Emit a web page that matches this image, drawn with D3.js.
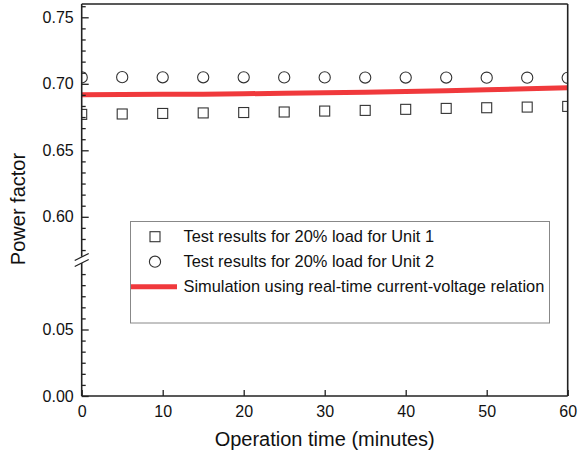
<!DOCTYPE html>
<html>
<head>
<meta charset="utf-8">
<script src="https://cdn.jsdelivr.net/npm/d3@7"></script>
<style>
  body { margin: 0; background: #fff; }
  svg text { font-family: "Liberation Sans", Arial, sans-serif; fill: #111; }
</style>
</head>
<body>
<div id="chart"></div>
<script>
// Operation time, minutes
var minutes = [0, 5, 10, 15, 20, 25, 30, 35, 40, 45, 50, 55, 60];
// Unit 1 test results (squares)
var unit1 = [0.6770, 0.6773, 0.6777, 0.6781, 0.6784, 0.6788, 0.6795, 0.6800, 0.6808, 0.6815, 0.6820, 0.6825, 0.6830];
// Unit 2 test results (circles)
var unit2 = [0.7048, 0.7050, 0.7049, 0.7049, 0.7049, 0.7048, 0.7048, 0.7047, 0.7047, 0.7047, 0.7046, 0.7046, 0.7045];
// simulation curve
var simulation = [0.6917, 0.6920, 0.6922, 0.6921, 0.6925, 0.6929, 0.6933, 0.6937, 0.6942, 0.6948, 0.6955, 0.6962, 0.6970];

var xTicks = [0, 10, 20, 30, 40, 50, 60];
var yTopTicks = [0.60, 0.65, 0.70, 0.75];
var yBotTicks = [0.00, 0.05];
var legendLabels = [
  "Test results for 20% load for Unit 1",
  "Test results for 20% load for Unit 2",
  "Simulation using real-time current-voltage relation"
];

var W = 579, H = 457,
    pLeft = 81.7, pRight = 567.7, pTop = 4, pBottom = 396,
    breakTop = 256.7, breakBot = 263;

var svg = d3.select("#chart").append("svg")
  .attr("width", W).attr("height", H);

var x = d3.scaleLinear().domain([0, 60]).range([pLeft, pRight]);
// broken y axis: two linear segments
var yTop = d3.scaleLinear().domain([0.57, 0.76]).range([breakTop, pTop]);
var yBot = d3.scaleLinear().domain([0, 0.1]).range([pBottom, breakBot]);

svg.append("clipPath").attr("id", "plotClip")
  .append("rect")
    .attr("x", pLeft).attr("y", pTop)
    .attr("width", pRight - pLeft).attr("height", pBottom - pTop);

var data = minutes.map(function (m, i) {
  return { t: m, u1: unit1[i], u2: unit2[i], sim: simulation[i] };
});

//simulation line
var plot = svg.append("g").attr("clip-path", "url(#plotClip)");
plot.append("path")
  .datum(data)
  .attr("fill", "none")
  .attr("stroke", "#f0393c")
  .attr("stroke-width", 5)
  .attr("d", d3.line()
    .x(function (d) { return x(d.t); })
    .y(function (d) { return yTop(d.sim); }));

//squares for unit 1
var sq = 10;
plot.selectAll(".u1").data(data).enter().append("rect")
  .attr("class", "u1")
  .attr("x", function (d) { return x(d.t) - sq / 2; })
  .attr("y", function (d) { return yTop(d.u1) - sq / 2; })
  .attr("width", sq).attr("height", sq)
  .style("fill", "none").style("stroke", "#333").style("stroke-width", 1.1);

//circles for unit 2
plot.selectAll(".u2").data(data).enter().append("circle")
  .attr("class", "u2")
  .attr("cx", function (d) { return x(d.t); })
  .attr("cy", function (d) { return yTop(d.u2); })
  .attr("r", 5.6)
  .style("fill", "none").style("stroke", "#333").style("stroke-width", 1.1);

//minor ticks: 6 intervals per major step
function minorTicks(scale, step) {
  var d = scale.domain(), out = [];
  var start = Math.ceil(d[0] / step - 1e-6);
  for (var k = start; k * step <= d[1] + 1e-9; k++) {
    if (k % 6 !== 0) out.push(k * step);
  }
  return out;
}

function styleAxis(g) {
  g.select(".domain").remove();
  g.selectAll("line").attr("stroke", "#222").attr("stroke-width", 1.3);
  g.selectAll("text").style("font-size", "16px").attr("fill", "#111");
}

//y axis, upper segment
svg.append("g").attr("transform", "translate(" + pLeft + ",0)")
  .call(d3.axisLeft(yTop).tickValues(yTopTicks).tickFormat(d3.format(".2f"))
    .tickSize(-7).tickPadding(8))
  .call(styleAxis);
svg.append("g").attr("transform", "translate(" + pLeft + ",0)")
  .call(d3.axisLeft(yTop).tickValues(minorTicks(yTop, 0.05 / 6)).tickFormat("").tickSize(-4))
  .call(styleAxis);

//y axis, lower segment
svg.append("g").attr("transform", "translate(" + pLeft + ",0)")
  .call(d3.axisLeft(yBot).tickValues(yBotTicks).tickFormat(d3.format(".2f"))
    .tickSize(-7).tickPadding(8))
  .call(styleAxis);
svg.append("g").attr("transform", "translate(" + pLeft + ",0)")
  .call(d3.axisLeft(yBot).tickValues(minorTicks(yBot, 0.05 / 6).filter(function (v) { return v < 0.099; }))
    .tickFormat("").tickSize(-4))
  .call(styleAxis);

//x axis
svg.append("g").attr("transform", "translate(0," + pBottom + ")")
  .call(d3.axisBottom(x).tickValues(xTicks).tickSize(-6).tickPadding(10))
  .call(styleAxis);

//frame
var frame = svg.append("g").attr("stroke", "#222").attr("stroke-width", 1.6).attr("fill", "none");
frame.append("line").attr("x1", pLeft).attr("x2", pLeft).attr("y1", pTop).attr("y2", breakTop);
frame.append("line").attr("x1", pLeft).attr("x2", pLeft).attr("y1", breakBot).attr("y2", pBottom);
frame.append("line").attr("x1", pLeft).attr("x2", pRight).attr("y1", pBottom).attr("y2", pBottom);
frame.append("line").attr("x1", pLeft).attr("x2", pRight).attr("y1", pTop).attr("y2", pTop);
frame.append("line").attr("x1", pRight).attr("x2", pRight).attr("y1", pTop).attr("y2", pBottom);

//break marks
var brk = svg.append("g").attr("stroke", "#222").attr("stroke-width", 1.3);
brk.append("line").attr("x1", pLeft - 7).attr("y1", 260.5).attr("x2", pLeft + 7).attr("y2", 253.5);
brk.append("line").attr("x1", pLeft - 7).attr("y1", 266.5).attr("x2", pLeft + 7).attr("y2", 259.5);

//axis titles
svg.append("text")
  .attr("x", (pLeft + pRight) / 2).attr("y", 446)
  .attr("text-anchor", "middle")
  .style("font-size", "20px")
  .text("Operation time (minutes)");
svg.append("text")
  .attr("transform", "translate(25,209) rotate(-90)")
  .attr("text-anchor", "middle")
  .style("font-size", "20px")
  .text("Power factor");

//legend
var legend = svg.append("g");
legend.append("rect")
  .attr("x", 130.5).attr("y", 221.5)
  .attr("width", 419).attr("height", 101.5)
  .style("fill", "#fff").style("stroke", "#888").style("stroke-width", 1);

var rowY = [236.7, 261.7, 286.7];
legend.append("rect")
  .attr("x", 155 - 5).attr("y", rowY[0] - 5).attr("width", 10).attr("height", 10)
  .style("fill", "none").style("stroke", "#333").style("stroke-width", 1.1);
legend.append("circle")
  .attr("cx", 155).attr("cy", rowY[1]).attr("r", 5.6)
  .style("fill", "none").style("stroke", "#333").style("stroke-width", 1.1);
legend.append("line")
  .attr("x1", 131).attr("x2", 177).attr("y1", rowY[2]).attr("y2", rowY[2])
  .attr("stroke", "#f0393c").attr("stroke-width", 5);

legend.selectAll(".legendLabel").data(legendLabels).enter().append("text")
  .attr("class", "legendLabel")
  .attr("x", 183.5)
  .attr("y", function (d, i) { return rowY[i]; })
  .attr("dy", "0.35em")
  .style("font-size", "16.4px")
  .text(function (d) { return d; });
</script>
</body>
</html>
